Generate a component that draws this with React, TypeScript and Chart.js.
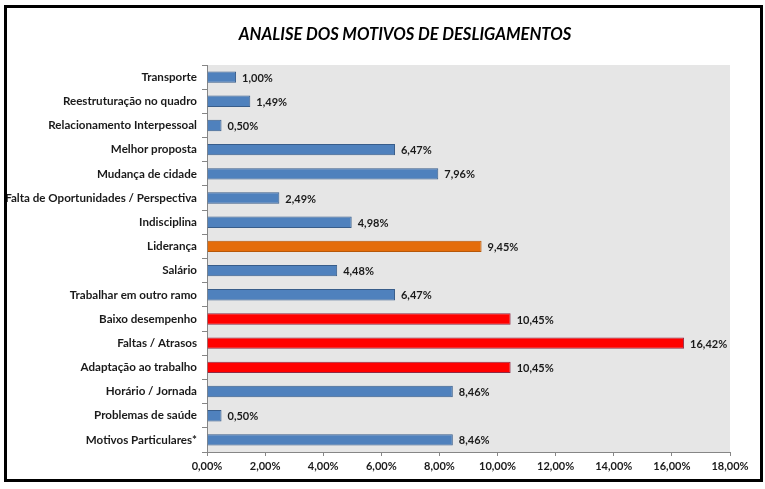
import React, { useEffect, useRef } from "react";
import { Chart, registerables } from "chart.js";

Chart.register(...registerables);

const categories = [
  "Transporte",
  "Reestruturação no quadro",
  "Relacionamento Interpessoal",
  "Melhor proposta",
  "Mudança de cidade",
  "Falta de Oportunidades / Perspectiva",
  "Indisciplina",
  "Liderança",
  "Salário",
  "Trabalhar em outro ramo",
  "Baixo desempenho",
  "Faltas / Atrasos",
  "Adaptação ao trabalho",
  "Horário / Jornada",
  "Problemas de saúde",
  "Motivos Particulares*",
];

const values = [1.0, 1.49, 0.5, 6.47, 7.96, 2.49, 4.98, 9.45, 4.48, 6.47, 10.45, 16.42, 10.45, 8.46, 0.5, 8.46];

// category highlight kind: 0 = normal, 1 = critical (red), 2 = leadership (orange)
const highlight = [0, 0, 0, 0, 0, 0, 0, 2, 0, 0, 1, 1, 1, 0, 0, 0];

const titleText = "ANALISE DOS MOTIVOS DE DESLIGAMENTOS";
const xMax = 18;
const xStep = 2;

const fillColors = ["#4f81bd", "#ff0000", "#e46c0a"];
const edgeColors = ["#385d8a", "#8e2a45", "#b65708"];

const FONT = "Lato, 'Open Sans', sans-serif";

const fmt = (v: number) => v.toFixed(2).replace(".", ",") + "%";

export default function App() {
  const ref = useRef<HTMLCanvasElement | null>(null);

  useEffect(() => {
    const canvas = ref.current;
    if (!canvas) return;

    const bgPlugin = {
      id: "plotBg",
      beforeDraw(chart: any) {
        const { ctx, chartArea } = chart;
        ctx.save();
        ctx.fillStyle = "#ffffff";
        ctx.fillRect(0, 0, chart.width, chart.height);
        ctx.fillStyle = "#e6e6e6";
        ctx.fillRect(chartArea.left, chartArea.top, chartArea.right - chartArea.left, chartArea.bottom - chartArea.top);
        ctx.restore();
      },
    };

    const labelPlugin = {
      id: "valueLabels",
      afterDatasetsDraw(chart: any) {
        const { ctx } = chart;
        const meta = chart.getDatasetMeta(0);
        ctx.save();
        ctx.font = `bold 11px ${FONT}`;
        ctx.fillStyle = "#1a1a1a";
        ctx.textAlign = "left";
        ctx.textBaseline = "middle";
        meta.data.forEach((bar: any, i: number) => {
          ctx.fillText(fmt(values[i]), bar.x + 6, bar.y + 1);
        });
        ctx.restore();
      },
    };

    const chart = new Chart(canvas, {
      type: "bar",
      data: {
        labels: categories,
        datasets: [
          {
            data: values,
            backgroundColor: highlight.map((h) => fillColors[h]),
            borderColor: highlight.map((h) => edgeColors[h]),
            borderWidth: 1,
            categoryPercentage: 1,
            barPercentage: 0.47,
          },
        ],
      },
      options: {
        indexAxis: "y",
        animation: false,
        responsive: false,
        maintainAspectRatio: false,
        layout: { padding: { left: 0, right: 35, top: 65, bottom: 7 } },
        plugins: {
          legend: { display: false },
          title: { display: false },
          tooltip: { enabled: false },
        },
        scales: {
          x: {
            min: 0,
            max: xMax,
            ticks: {
              stepSize: xStep,
              color: "#1a1a1a",
              font: { family: FONT, size: 11, weight: "bold" },
              padding: 4,
              maxRotation: 0,
              callback: (v: any) => fmt(Number(v)),
            },
            grid: { drawOnChartArea: false, tickLength: 4, color: "#868686" },
            border: { color: "#868686" },
            afterFit: (s: any) => {
              s.height = 30;
            },
          },
          y: {
            ticks: {
              color: "#1a1a1a",
              font: { family: FONT, size: 11.6, weight: "bold" },
              padding: 5,
              autoSkip: false,
            },
            grid: { drawOnChartArea: false, tickLength: 5, color: "#868686", offset: true },
            border: { color: "#868686" },
            afterFit: (s: any) => {
              s.width = 207;
            },
          },
        },
      } as any,
      plugins: [bgPlugin, labelPlugin],
    });

    return () => chart.destroy();
  }, []);

  return (
    <div style={{ position: "fixed", left: 0, top: 0, width: 765, height: 489, background: "#fff" }}>
      <canvas ref={ref} width={765} height={489} style={{ position: "absolute", left: 0, top: 0, width: 765, height: 489 }} />
      <div
        style={{
          position: "absolute",
          left: 0,
          width: 810,
          top: 22,
          textAlign: "center",
          fontFamily: FONT,
          fontWeight: "bold",
          fontStyle: "italic",
          fontSize: 16.6,
          color: "#000",
          lineHeight: "24px",
          whiteSpace: "nowrap",
        }}
      >
        {titleText}
      </div>
      <div
        style={{
          position: "absolute",
          left: 4,
          top: 5,
          width: 759,
          height: 477,
          boxSizing: "border-box",
          border: "3px solid #000",
          pointerEvents: "none",
        }}
      />
    </div>
  );
}
